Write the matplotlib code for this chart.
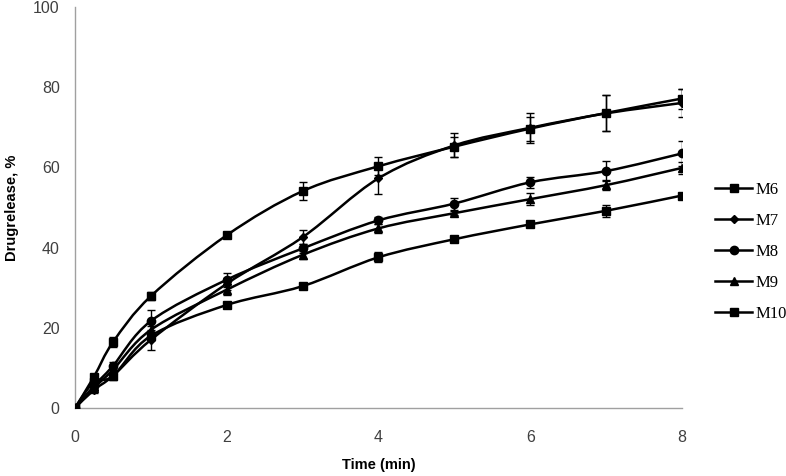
import numpy as np
import matplotlib
matplotlib.use("Agg")
import matplotlib.pyplot as plt
from matplotlib.path import Path
from matplotlib.patches import PathPatch
from matplotlib.lines import Line2D

# data
time = [0, 0.25, 0.5, 1, 2, 3, 4, 5, 6, 7, 8]
m6 = [0, 7.8, 16.4, 27.9, 43.1, 54.1, 60.3, 65.2, 69.7, 73.6, 77.2]
m7 = [0, 4.5, 8.0, 17.0, 31.0, 42.6, 57.3, 65.5, 69.9, 73.5, 76.1]
m8 = [0, 5.5, 10.5, 21.7, 32.0, 39.8, 46.8, 51.0, 56.3, 59.1, 63.5]
m9 = [0, 5.0, 9.5, 19.5, 29.5, 38.2, 44.8, 48.6, 52.1, 55.6, 59.9]
m10 = [0, 6.5, 8.0, 18.0, 25.7, 30.4, 37.6, 42.1, 45.8, 49.2, 53.0]

m6_err = [0, 0.8, 1.2, 1.0, 0.8, 2.3, 2.2, 2.5, 3.0, 4.5, 2.5]
m7_err = [0, 0.8, 1.0, 2.5, 1.5, 1.8, 3.9, 3.0, 3.7, 4.5, 3.5]
m8_err = [0, 0.8, 1.0, 2.7, 1.7, 1.2, 0.8, 1.5, 1.3, 2.5, 3.2]
m9_err = [0, 0.5, 0.8, 1.0, 1.3, 1.0, 1.2, 0.5, 1.5, 1.2, 1.5]
m10_err = [0, 0.5, 0.8, 0.8, 0.5, 0.5, 1.2, 0.5, 0.5, 1.5, 0.5]

names = ['M6', 'M7', 'M8', 'M9', 'M10']
series = [m6, m7, m8, m9, m10]
errors = [m6_err, m7_err, m8_err, m9_err, m10_err]
markers = ['s', 'D', 'o', '^', 's']
msizes = [6, 4.5, 6, 6, 5.5]


def smooth_path(x, y):
    # Excel-like smoothed line: cubic bezier through every point
    p = np.column_stack([x, y]).astype(float)
    n = len(p)
    verts = [p[0]]
    codes = [Path.MOVETO]
    for i in range(n - 1):
        p0 = p[i - 1] if i > 0 else p[i]
        p3 = p[i + 2] if i + 2 < n else p[i + 1]
        c1 = p[i] + (p[i + 1] - p0) / 6
        c2 = p[i + 1] - (p3 - p[i]) / 6
        verts += [c1, c2, p[i + 1]]
        codes += [Path.CURVE4] * 3
    return Path(verts, codes)


plt.rcParams['font.family'] = ['Liberation Sans', 'DejaVu Sans']
fig = plt.figure(figsize=(7.86, 4.76), dpi=100)
ax = fig.add_axes([0.0954, 0.1429, 0.7723, 0.8421])

handles = []
for name, y, err, mk, ms in zip(names, series, errors, markers, msizes):
    ax.add_patch(PathPatch(smooth_path(time, y), facecolor='none',
                           edgecolor='black', lw=1.8, zorder=3))
    ax.errorbar(time, y, yerr=err, fmt=mk, color='black', ms=ms,
                ecolor='black', elinewidth=1, capsize=3, capthick=1, zorder=4)
    handles.append(Line2D([], [], color='black', lw=1.8, marker=mk, ms=ms))

ax.set_xlim(0, 8)
ax.set_ylim(0, 100)
ax.set_xticks([0, 2, 4, 6, 8])
ax.set_yticks([0, 20, 40, 60, 80, 100])
ax.tick_params(length=0, labelsize=11.5, labelcolor='#404040')
ax.tick_params(axis='x', pad=16)
ax.tick_params(axis='y', pad=11)
for s in ['top', 'right']:
    ax.spines[s].set_visible(False)
for s in ['left', 'bottom']:
    ax.spines[s].set_color('#a0a0a0')
    ax.spines[s].set_linewidth(1)

ax.set_xlabel('Time (min)', fontsize=10.5, fontweight='bold', labelpad=9)
ax.set_ylabel('Drugrelease, %', fontsize=10.5, fontweight='bold', labelpad=10)

ax.legend(handles, names, loc='center left', bbox_to_anchor=(1.03, 0.39),
          frameon=False, prop={'family': 'Liberation Serif', 'size': 12},
          handlelength=2.2, handletextpad=0.2, labelspacing=0.9)

fig.savefig('out.png', dpi=100)
